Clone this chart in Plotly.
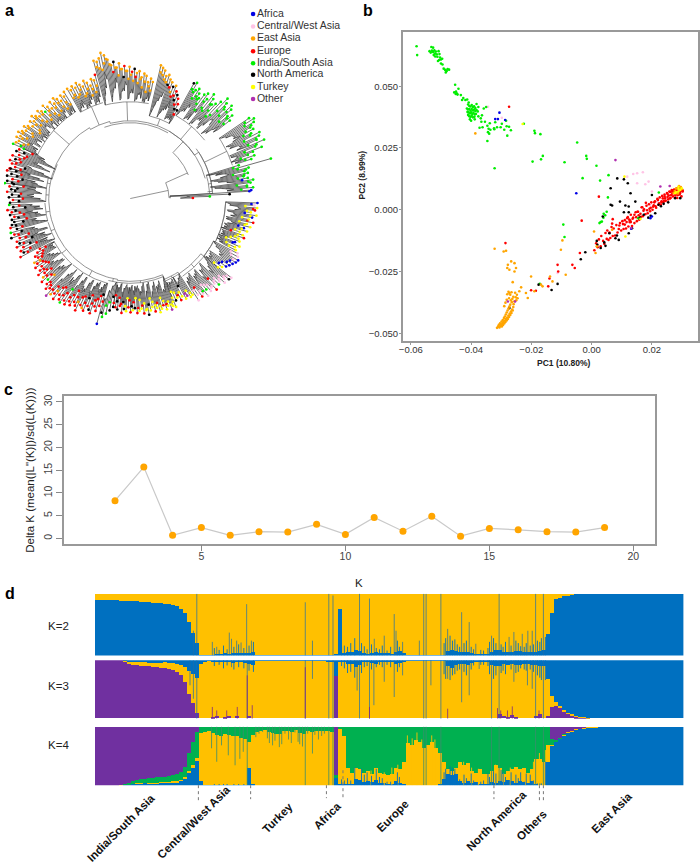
import numpy as np
import plotly.graph_objects as go

W, H = 700, 864
FONT = "Liberation Sans, Arial, sans-serif"

# ---- groups
GROUP_CODES = ["A", "C", "E", "R", "I", "N", "T", "O"]
GROUP_LABELS = ["Africa", "Central/West Asia", "East Asia", "Europe", "India/South Asia", "North America", "Turkey", "Other"]
GROUP_COLORS = ["#0000E6", "#FFC4E6", "#FFA500", "#FF0000", "#00EE00", "#000000", "#FFFF00", "#B030B0"]
COLOR = dict(zip(GROUP_CODES, GROUP_COLORS))
NAME = dict(zip(GROUP_CODES, GROUP_LABELS))

# ---- panel a: circular tree, angles in degrees, radii in tree units
CLADE_START = [0.5, 4, 18, 38, 62, 79, 106, 122, 155, 166, 173, 183, 196, 209, 229, 255, 261, 293, 304, 322, 334]
CLADE_END = [3.5, 17, 34, 61, 77, 105, 120, 155, 166, 173, 182, 195, 208, 228, 255, 261, 293, 303, 322, 333, 358]
CLADE_BACK = [40, 83, 83, 78, 78, 78, 80, 82, 82, 82, 82, 82, 82, 82, 82, 82, 83, 88, 90, 94, 96]
CLADE_BASE = [40, 80, 108, 95, 85, 97, 100, 103, 81, 85, 85, 86, 86, 88, 88, 85, 85, 90, 94, 94, 96]
CLADE_TEETH = [1, 3, 3, 5, 3, 6, 3, 8, 3, 2, 2, 3, 3, 4, 6, 1, 9, 2, 4, 2, 6]
CLADE_TIPS = [
    [63, 80, 100, 120],
    [122, 124, 118, 122, 125, 120, 116, 121, 118, 123, 147, 114],
    [128, 132, 126, 142, 136, 147, 140, 144, 146, 138, 142, 140, 146, 148, 144],
    [127, 132, 128, 135, 138, 130, 136, 140, 133, 128, 125, 130, 134, 126, 131, 128, 122, 126, 130, 127, 134, 132],
    [100, 106, 111, 114, 117, 122, 120, 124, 126, 130, 128, 133, 135, 137],
    [119, 122, 118, 124, 126, 122, 128, 126, 130, 127, 132, 128, 133, 130, 136, 132, 138, 135, 141, 146, 149, 144, 141, 143],
    [129, 124, 126, 120, 124, 127, 122, 125, 128, 124, 127, 124, 127],
    [126, 122, 125, 120, 124, 127, 122, 126, 120, 124, 128, 122, 125, 128, 123, 126, 129, 124, 127, 122, 126, 129, 125, 128, 131, 127, 130, 126, 128, 130],
    [118, 122, 124, 120, 126, 122, 127, 124, 120, 125],
    [124, 127, 122, 126, 120, 125, 127],
    [118, 122, 120, 124, 119, 122, 118, 121],
    [122, 118, 124, 120, 122, 118, 121, 119, 122, 124, 118],
    [125, 122, 126, 118, 122, 120, 124, 118, 122, 120, 125],
    [104, 108, 112, 110, 116, 114, 118, 112, 116, 120, 114, 118, 122, 116, 120, 124, 121],
    [129, 125, 122, 127, 120, 124, 126, 122, 125, 120, 123, 118, 121, 125, 118, 120, 122, 116, 119, 122, 114, 118, 112, 107],
    [130, 122, 118, 114, 110],
    [106, 110, 112, 108, 115, 111, 113, 109, 114, 112, 110, 115, 113, 111, 116, 113, 118, 114, 111, 116, 113, 118, 115, 112, 117, 114, 119, 116, 118],
    [108, 112, 110, 114, 111, 115, 113, 116, 115],
    [123, 118, 122, 120, 125, 119, 123, 121, 126, 120, 124, 122, 127, 124, 128, 129],
    [112, 115, 118, 120, 122, 124, 125, 123, 121],
    [118, 116, 120, 114, 118, 116, 121, 119, 115, 122, 118, 124, 120, 126, 121, 124, 128, 122, 126, 128, 125, 128],
]
CLADE_GROUPS = [
    "RINA", "AIIIIIIIIIII", "IIIIIIIIIIIIIII", "IIIIIIIIIIIIIIIIIIIIIN", "NRRNRENEEEEEEE",
    "EEEEEEEENREEREEENEEEEEEE", "REEEEEEEEEEEE", "EEEEEEEEEEEIEEEEEEEEEEEEEEEEEI",
    "IRNRRNRRRR", "NRNNRNI", "NRNRNNRN", "INRRNRNNNRN", "IRNRRNRRRNR", "RRRRERRRRRRERIRRR",
    "OERRRRIRRRRRRRRERRNRRRRR", "AIINN", "RRNRRNTRRTNRTTRTNTTRTTTRTTOTT", "TNTRTTOTT",
    "CCRCCICCRCICCCNC", "TTAAAAACC", "TTTATTRTTTATTRTATTRTCA",
]
CLADE_TIPS_B = [
    [],
    [112, 118, 108, 120, 114, 110, 117, 106, 120, 112, 108],
    [122, 118, 132, 124, 138, 130, 140, 128, 136, 130, 134, 142, 136, 138],
    [120, 126, 118, 130, 122, 132, 124, 116, 112, 118, 124, 114, 116, 122, 110, 116, 120, 122, 118, 124, 126],
    [95, 100, 104, 108, 112, 110, 114, 118, 120, 122, 124, 128, 130],
    [110, 114, 108, 118, 112, 120, 116, 122, 118, 124, 120, 128, 122, 130, 124, 132, 128, 136, 142, 138, 132, 134, 136],
    [118, 112, 116, 110, 118, 114, 112, 120, 116, 114, 118, 116],
    [112, 116, 110, 114, 120, 112, 118, 110, 114, 120, 116, 112, 122, 114, 118, 124, 116, 120, 114, 112, 124, 118, 116, 126, 120, 124, 116, 120, 122],
    [108, 116, 112, 114, 118, 116, 120, 110, 114],
    [118, 112, 116, 110, 114, 120],
    [108, 114, 116, 110, 112, 108, 112],
    [112, 106, 116, 112, 108, 114, 106, 110, 118, 112],
    [114, 118, 108, 112, 106, 116, 110, 104, 112, 116],
    [98, 102, 104, 106, 110, 108, 106, 104, 112, 110, 106, 114, 110, 108, 116, 118],
    [120, 114, 118, 112, 110, 118, 114, 108, 116, 112, 106, 112, 116, 110, 108, 114, 108, 104, 112, 108, 106, 102, 100],
    [118, 110, 106, 100],
    [98, 104, 100, 106, 104, 108, 100, 102, 108, 104, 100, 110, 102, 108, 106, 112, 108, 102, 106, 110, 108, 112, 104, 108, 112, 110, 114, 112],
    [102, 104, 108, 106, 100, 110, 108, 112],
    [112, 110, 116, 118, 112, 114, 116, 120, 112, 118, 116, 120, 118, 122, 124],
    [106, 110, 112, 116, 118, 120, 116, 114],
    [110, 106, 112, 104, 108, 112, 114, 106, 110, 116, 112, 118, 112, 120, 114, 122, 116, 118, 124, 116, 122],
]
CLADE_GROUPS_B = [
    "", "IIIIAIIIIII", "IIIIIIIIIIIIII", "IIIIIIIIIIIIIIIIIIIII", "RNRNRRERNEEEE",
    "EEEEEEEREEEENEEEREEEEEE", "EEEEEEEEEEEE", "EEEEEEEEEEEEEEEEEEEEEEEEEEEEI", "RNRRRRRNR", "NRNNRN",
    "RNNRNRN", "RNNRRNRNNR", "NRRRNRNRRR", "RRRRERRRRRRRRERR", "RRERRRRIRRRRERRRNRRRRRN", "NIIN",
    "RNRRNTTRNRTRTRTTNTTTRTTTRTTT", "TTRTNOTT", "CRCICCCCRCCCCCC", "TAAAACCC", "TTATTTTRTTATTRTTATRTA",
]
ROOT_ARC_FROM = [1, 22, 15, 5, 60]
ROOT_ARC_TO = [24, 47, 60, 37, 110]
ROOT_ARC_R = [39, 63, 78, 83, 76]
ROOT_STEM_ANGLE = [12, 24, 47, 5]
ROOT_STEM_FROM = [0, 39, 63, 78]
ROOT_STEM_TO = [39, 63, 78, 83]
TREE_CENTER = (127, 197)

# ---- panel b: PCA, values in thousandths
PCA = {
"E": ([-38.6,-32.2,-29.2,-28.4,-26.7,-25.6,-25.1,-27.8,-28.0,-27.3,-25.6,-26.2,-27.3,-23.4,-24.0,-21.8,-21.2,-20.1,-19.0,-16.8,-16.3,-13.8,-13.0,-8.6,-10.2,-9.7,0.8,1.7,1.3,6.8,
       -31.4,-31.0,-30.6,-30.8,-30.2,-30.4,-30.0,-29.8,-29.6,-29.9,-29.4,-29.2,-29.5,-29.0,-28.8,-29.1,-28.6,-28.4,-28.8,-28.2,-28.0,-28.5,-27.8,-27.6,-28.2,-27.4,-27.2,-27.9,-27.0,-26.8,-27.6,-26.6,-26.4,-27.3,-26.2,-26.0,-27.0,-25.9,-26.5,-26.8,-25.6,-26.3,-26.0,-27.4,-28.0,-27.6,-27.0,-26.6,-28.2,-28.6,-29.0,-25.2,-25.0,-24.8,-25.4,-24.6,
       27.6,28.0,28.4,28.8,29.2,29.6,29.9,28.6,27.2,29.0],
      [30.9,-15.8,-16.9,-16.6,-20.9,-21.6,-23.6,-22.3,-23.6,-24.3,-25.0,-29.3,-33.7,-31.4,-33.0,-33.7,-35.7,-27.0,-33.0,-30.3,-31.0,-27.0,-29.0,-26.3,-16.2,-12.4,-8.8,-14.8,-17.5,-8.1,
       -47.8,-47.2,-47.6,-46.6,-47.0,-46.0,-46.4,-47.2,-45.8,-45.2,-46.6,-45.4,-44.6,-46.0,-44.8,-43.8,-45.4,-44.2,-43.2,-44.8,-43.6,-42.4,-44.2,-42.8,-41.6,-43.4,-42.0,-40.8,-42.6,-41.2,-40.0,-41.8,-40.4,-39.2,-40.8,-39.4,-38.4,-38.2,-37.4,-36.6,-37.0,-36.0,-35.2,-35.8,-34.2,-33.2,-34.4,-33.4,-36.4,-37.6,-39.0,-35.4,-36.6,-34.4,-33.6,-35.8,
       7.6,8.6,7.2,8.9,8.2,9.2,8.4,6.6,6.8,9.6]),
"R": ([-27.4,-28.6,-3.3,2.4,-11.3,-11.1,-6.4,-5.6,-3.9,-20.1,-18.5,-14.0,-14.4,
       0.9,1.5,2.0,2.4,3.0,3.2,3.8,4.2,4.6,5.0,5.2,5.6,5.9,6.2,6.6,7.0,7.3,7.8,8.2,8.6,9.0,9.4,9.8,10.2,10.6,11.0,11.4,11.8,12.2,12.6,13.0,13.4,13.8,14.2,14.6,15.0,15.4,15.8,16.2,16.6,17.0,17.4,17.8,18.2,18.6,19.0,19.4,19.8,20.2,20.6,21.0,21.4,21.8,22.2,22.6,23.0,23.4,23.8,24.2,24.6,25.0,25.4,25.8,26.2,26.6,27.0,27.4,27.8,28.2,28.6,29.0,29.4,29.8,30.2,
       6.8,7.0,11.0,12.0,12.5,13.0,14.2,15.2,16.8,18.0,19.6,20.8,22.0,23.2,24.2,25.2,26.0,26.8,27.6,28.4,29.2,29.8,30.0,
       26.0,26.6,27.2,27.8,28.4,29.0,29.6,30.2,30.0,29.2,28.6,28.0,27.4,26.8,
       9.2,10.4,11.6,12.8,13.6,14.8,15.6,16.4,17.2,18.4,19.2,20.4,21.2,22.4,23.2,24.4,25.2,26.4,27.2,28.0,28.8,29.6,24.0,25.6,27.6,29.4,30.1,28.4,26.9,23.6],
      [41.7,-13.5,-4.4,5.3,-22.3,-25.0,-22.3,-23.6,-17.5,-32.6,-32.8,-27.8,-31.0,
       -16.4,-13.6,-15.2,-12.0,-14.8,-10.6,-12.6,-13.8,-9.4,-11.8,-8.4,-12.2,-9.2,-11.4,-7.0,-10.6,-7.6,-10.4,-6.2,-9.2,-7.8,-5.4,-8.4,-4.6,-7.8,-4.2,-7.6,-3.4,-6.8,-5.0,-2.0,-6.6,-3.2,-5.4,-1.0,-4.6,-0.8,-4.0,-1.6,1.0,-2.6,0.2,-1.8,1.6,-1.4,2.2,-0.6,3.0,0.0,1.8,3.4,0.8,4.4,2.0,5.0,2.0,5.6,3.0,6.2,3.6,6.8,4.2,7.4,4.8,8.0,5.4,8.2,5.8,8.6,6.4,8.8,6.8,8.4,7.4,
       -5.6,-3.8,-6.0,-3.0,-4.0,-5.0,-2.0,-0.8,1.0,2.8,0.8,3.0,4.0,3.4,5.4,6.4,4.6,7.4,8.0,4.8,8.6,5.4,8.0,
       7.2,7.8,8.0,6.4,8.4,8.8,8.6,7.6,8.2,6.2,6.0,7.0,7.4,6.8,
       -6.4,-5.8,-5.0,-4.4,-3.6,-3.0,-2.2,-2.8,-0.4,-0.2,0.4,1.2,1.4,2.6,3.0,4.6,5.2,6.0,7.0,7.4,7.0,8.0,3.6,5.8,6.8,7.6,7.8,7.9,6.6,4.6]),
"I": ([-58.1,-57.9,-53.2,-52.6,-53.8,-53.4,-53.0,-52.6,-52.2,-52.0,-51.7,-51.4,-51.9,-52.4,-51.2,-50.8,-50.5,-50.3,-50.6,-50.0,-49.6,-51.0,-50.0,-49.5,-49.1,-48.6,-48.1,-47.8,-48.4,-47.3,
       -45.3,-45.6,-45.0,-44.7,-44.5,-45.1,-44.2,-43.4,-42.6,-41.9,-41.3,-40.8,-43.0,
       -41.0,-40.6,-40.2,-39.8,-39.4,-39.0,-38.6,-38.2,-37.6,-41.4,-41.0,-40.6,-40.2,-39.8,-39.4,-39.0,-38.6,-38.2,-37.8,-41.2,-40.8,-40.4,-40.0,-39.6,-39.2,-38.8,-38.4,-41.0,-40.6,-40.2,-39.8,-39.4,-38.9,-40.4,-40.0,-38.8,-37.6,-36.8,-36.4,-35.8,-35.0,-36.6,
       -35.4,-33.8,-34.6,-32.0,-32.4,-31.4,-32.3,-34.2,-33.6,-34.4,-36.2,-37.2,-34.0,-34.6,-30.2,-29.8,-28.4,-28.2,-29.0,-27.4,-26.8,-28.0,-32.2,
       -22.5,-19.0,-18.8,-17.0,-19.6,-16.8,-16.2,-9.0,-4.8,-1.8,-1.6,1.6,-3.0,2.8,5.6,
       -9.4,-9.0,3.0,2.6,3.4,3.9,4.5,4.0,5.0,5.4,-17.2,15.5,22.3],
      [66.2,62.6,65.9,65.6,64.2,63.6,64.4,63.8,64.5,63.2,64.0,62.9,62.0,62.6,61.9,64.2,63.0,61.6,60.6,60.8,61.1,60.2,59.2,58.8,57.1,56.6,56.2,56.9,55.6,56.7,
       50.6,47.5,47.8,47.0,46.6,46.9,49.0,46.4,45.2,44.4,44.6,43.4,44.4,
       42.6,42.0,41.8,42.4,41.6,41.9,41.2,42.8,41.6,41.0,40.6,40.8,40.2,40.8,40.2,40.6,40.0,40.4,39.8,39.6,39.4,39.0,39.4,38.8,39.2,38.6,38.8,38.4,37.8,37.6,38.0,37.4,37.6,36.6,36.0,36.6,37.8,37.0,38.2,41.0,41.6,35.6,
       35.6,35.0,34.0,35.4,33.0,33.4,32.6,32.8,32.4,31.4,33.4,33.2,30.8,27.8,33.4,34.8,36.0,33.8,32.4,33.6,32.2,30.0,16.8,
       34.8,32.0,31.0,30.6,19.5,20.4,21.8,19.2,27.2,21.8,20.6,17.8,12.8,11.8,14.0,
       -6.0,-11.0,-5.0,-5.4,-4.8,-3.2,-2.2,-1.6,-0.8,5.0,-30.0,-3.4,7.0]),
"N": ([6.3,8.5,10.7,12.0,6.3,6.8,9.4,12.9,14.5,11.2,12.3,10.7,12.3,3.7,5.9,7.9,4.6,1.7,1.9,-2.1,-3.6,-11.3,-13.3,-17.6,20.0,22.2,23.9,27.7,29.4,17.3,18.8,21.1,13.4,12.3,9.0,3.0,-27.3,4.2,8.4,23.0,25.4,19.6,16.0],
      [8.7,12.7,12.3,10.7,2.0,1.7,3.3,6.7,3.3,1.7,1.3,-1.0,-1.0,-2.7,-9.5,-11.5,-14.6,-12.6,-14.2,-17.2,-20.0,-30.0,-32.5,-30.3,6.0,2.0,2.4,4.7,4.7,-2.0,-3.2,-1.4,-7.5,-9.5,-12.2,-15.5,-39.8,-13.2,-10.4,1.4,3.0,-2.4,-3.2]),
"C": ([-34.4,-29.8,15.1,17.0,13.8,11.8,15.1,17.8,18.9,20.0,23.3,24.4,21.8,26.0,19.5,-11.3],
      [41.7,37.2,14.8,15.2,14.5,13.4,10.7,10.3,11.4,7.4,3.3,4.7,3.3,6.0,2.0,-25.6]),
"A": ([-30.6,-32.0,-31.1,-28.7,-5.1,13.1,20.0,19.5],
      [39.3,36.7,36.7,36.3,6.7,-7.7,-2.7,-3.4]),
"T": ([-22.9,10.9,16.2,11.2,28.8,28.0,29.4,28.8,27.7,29.9,28.8],
      [34.7,13.4,-3.7,-10.8,7.4,7.1,8.0,8.4,6.7,8.7,9.3]),
"O": ([7.9,22.8,25.9,-27.8,-25.4,13.2],
      [20.1,9.4,9.6,-37.1,-37.1,-7.4]),
}
PCA_ORDER = ["C", "R", "I", "N", "E", "A", "T", "O"]

# ---- panel c
K_VALUES = list(range(2, 20))
DELTA_K = [8.3, 15.7, 0.7, 2.4, 0.7, 1.5, 1.4, 3.1, 0.9, 4.6, 1.6, 4.9, 0.5, 2.2, 1.9, 1.5, 1.4, 2.4]

# ---- panel d: ancestry percentages per sample block
K2_BLUE = [91,91,90,90,90,90,89,89,88,88, 88,87,87,87,86,86,85,84,84,83, 81,76,70,54,37,20,2,1,1,1,
           3,3,4,3,4,4,5,4,5,6, 1,1,1,1,1,1,1,1,1,1, 1,1,1,1,1,1,1,1,1,2,
           3,75,5,6,6,10,8,4,3,4, 6,4,5,4,3,6,8,4,1,1, 1,1,1,1,1,1,1,1,8,10,
           8,6,6,7,5,3,3,3,3,7, 10,9,6,7,6,8,8,6,6,6, 7,8,9,35,70,92,94,96,98,99] + [100]*28
K3_PURPLE = [100]*7 + [98,94,92, 91,90,90,89,88,88,87,86,85,83, 80,74,62,42,26,10,0,0,0,3,
           4,0,2,4,0,5,0,0,4,0] + [0]*20 + [72] + [0]*39 + [0,8,4,3,6,3,0,0,0,0,
           4,8,0,5,20,22,18,12,8,5, 3,2,1,0.5] + [0]*24
K3_BLUE = [0]*7 + [1,2,3, 4,4,4,5,5,5,5,4,5,5, 6,8,12,18,24,30,6,2,1,2,
           3,3,4,3,5,3,4,5,6,8] + [1]*18 + [2,3,
           28,2,4,7,6,12,9,3,4,5, 6,3,4,3,3,7,5,4,1,1, 1,1,1,1,1,1,1,1,11,14,
           9,6,7,8,5,3,2,2,3,9, 10,10,6,8,6,8,8,6,6,8, 8,10,11,32,62,72,78,85,90,93,
           96,97,98,99] + [100]*24
K4_PURPLE = [100]*6 + [99,98,95,92, 90,89,88,87,87,86,85,85,84,82, 80,76,68,45,25,8,0,0,0,0] + [0]*30 + [82] + [0]*49 + [
           0,0,0,0,20,22,18,12,8,6, 4,2,1] + [0]*25
K4_GREEN = [0]*7 + [1,3,5, 6,7,8,8,8,9,9,9,10,11, 12,14,18,30,40,45,10,8,6,10,
           14,16,12,14,15,16,18,20,25,14, 8,6,5,8,10,12,12,6,7,9, 5,10,12,6,8,6,6,7,6,8,
           5,3,15,70,78,70,72,78,75,80, 70,78,80,82,80,70,72,60,28,30, 22,25,35,30,25,35,45,60,72,75,
           70,60,65,62,75,78,72,80,80,75, 65,70,80,75,72,68,72,70,78,72, 55,55,60,30,10,2,1,1,0,0] + [0]*28
K4_BLUE = [0]*7 + [1,2,3, 3,3,4,4,4,4,5,5,5,5, 6,8,12,22,30,42,8,1,1,1,
           1,1,1,1,1,1,1,1,30,2] + [0]*20 + [13,3,2,3,3,12,10,6,8,6,
           10,5,4,2,2,8,5,2,0,0, 0,0,0,0,0,0,3,12,20,18, 20,8,4,8,4,6,2,2,3,6,
           4,8,6,9,8,5,8,6,4,8, 2,0,0,40,68,75,80,86,91,93, 95,97,98,99,99,99] + [100]*22

K2_SPIKE_POS = [24.75,25.6,29.5,30.6,33.75,34.3,35.6,36.7,38.1,39.3,52.8,54.6,58.7,59.75,66.4,68.9,70.1,72.6,75.1,75.55,77.2,81.4,82.5,83.1,86.8,88.5,92,93.9,95.55,99.5,101.4,103.9,105.1,107.2,108.6,109.7,110.55,112.5]
K2_SPIKE_TOP = [40,100,22,14,37,27,24,21,83,24,86,24,100,97,100,92,27,32,67,40,22,24,100,100,100,43,70,54,19,32,100,30,38,35,40,40,100,100]
K3_SPIKE_POS = [23.9,24.75,25.6,34.3,38.25,52.8,54.6,58.7,59.75,65.8,66.4,68.9,70,72.6,75.1,77.2,82.5,83.1,84.3,86.8,88.5,92,93.9,96.4,99.5,101.4,105.1,108.5,109.7,110.55,112.5]
K3_SPIKE_DEPTH = [43,66,100,12,100,100,32,100,100,52,100,100,77,37,63,26,100,100,43,100,32,72,60,15,100,100,37,43,49,100,100]
K3_PURPLE_SPIKE_POS = [29.5,30.6,33.1,35.75,38.25,39.5,52.8,68.9,88.5,101,101.8,103.5,104.7,111.4]
K3_PURPLE_SPIKE_TOP = [20,14,14,20,74,23,88,20,17,18,14,14,21,14]
K4_SPIKE_POS = [29.3,30.6,31.8,33.5,35.2,36.4,37.25,38.25,51,52.8,54.6,58.7,59.75,82.5,83.1,86.8,99.5,101.4,110.55,112.5,
                40.4,41.2,42.1,43.3,43.8,44.6,45.2,46.3,46.9,47.7,48.6,49.3,50.2,51.4,52.1,53.4,55.2,56.1,56.9,57.6]
K4_SPIKE_DEPTH = [37,60,32,49,66,55,43,100,26,100,46,100,100,100,100,100,100,100,100,100,
                  18,12,9,20,28,32,24,35,30,12,22,28,10,30,34,12,14,22,16,12]
K4_YELLOW_SPIKE_POS = [69.3,72.6,74.5,76,78.4,79.6,80.8,82,84.5,85.3,92.5,94.5,96.2,100.5,102.5,104.2,108,110,111.5,113]
K4_YELLOW_SPIKE_TOP = [25,22,30,35,85,80,90,78,85,78,40,30,28,35,20,30,22,40,55,60]
FRINGE_POS = [30,31.2,32.3,33.2,34.9,36.1,37.4,38.7,39.8,
              61.9,62.6,63.4,64.2,65.2,66.9,67.6,68.3,69.4,70.6,71.4,72.1,73.3,74.2,75.9,76.4,
              87.6,88,89.1,89.7,90.3,90.9,91.5,92.6,93.2,94.4,95,96.8,97.5,98.6,99,100,100.6,101.9,102.4,103,104.4,105.6,106.2,106.8,107.7,108.2,109.2,110,111,111.6,112,113]
K2_FRINGE_TOP = [12,9,16,10,14,18,12,16,22,
                 14,16,14,20,28,20,15,10,18,12,10,16,8,14,24,14,
                 20,28,32,24,26,18,14,20,24,14,10,9,8,12,22,28,20,18,14,22,16,24,20,15,14,20,16,18,24,22,28,30]
K3_FRINGE_DEPTH = [10,8,14,9,16,12,14,18,20,
                   10,14,22,20,30,22,12,10,16,12,8,12,8,12,20,12,
                   24,32,34,26,24,18,16,20,26,16,9,8,8,10,24,32,26,22,18,24,16,22,20,14,16,18,16,20,26,30,34,34]
K4_FRINGE_TOP = [2,2,2,2,2,2,2,2,2,
                 10,8,12,8,30,28,18,22,16,28,14,12,6,6,22,14,
                 22,28,32,30,28,14,10,18,12,20,8,6,8,20,14,24,20,26,22,14,22,18,12,22,6,20,18,8,3,3,3,40]
SEPARATOR_POS = [26, 39.1, 58.1, 62.25, 100.1, 111.5, 112.5]
SEPARATOR_TOP = [785, 785, 785, 770, 785, 785, 785]
SEPARATOR_BOTTOM = [802, 799, 798, 798, 799, 803, 803]
REGION_LABELS = ["India/South Asia", "Central/West Asia", "Turkey", "Africa", "Europe", "North America", "Others", "East Asia"]
REGION_X = [117.5, 191, 275, 325, 391, 495, 531, 611]
REGION_Y = [828, 822, 818, 816, 816, 821, 825, 813]
K_LABELS = ["K=2", "K=3", "K=4"]

YELLOW, BLUE, PURPLE, GREEN = "#FFC000", "#0070C0", "#7030A0", "#00B050"


def dom_x(l, r):
    return [l / W, r / W]


def dom_y(t, b):
    return [1 - b / H, 1 - t / H]


fig = go.Figure()

# ---------- panel a
cx, cy = TREE_CENTER


def polar(theta, r):
    t = np.radians(theta)
    return cx + np.asarray(r) * np.cos(t), cy - np.asarray(r) * np.sin(t)


def add_arc(xs, ys, t0, t1, r):
    a, b = polar(np.linspace(t0, t1, max(3, int(abs(t1 - t0)) + 2)), r)
    xs += list(a) + [None]
    ys += list(b) + [None]


def add_stem(xs, ys, t, r0, r1):
    a, b = polar(t, np.array([r0, r1]))
    xs += list(a) + [None]
    ys += list(b) + [None]


bx, by, sx, sy = [], [], [], []
tips = {c: ([], []) for c in GROUP_CODES}
for t0, t1, r in zip(ROOT_ARC_FROM, ROOT_ARC_TO, ROOT_ARC_R):
    add_arc(bx, by, t0, t1, r)
for t, r0, r1 in zip(ROOT_STEM_ANGLE, ROOT_STEM_FROM, ROOT_STEM_TO):
    add_stem(bx, by, t, r0, r1)
prev_end, prev_back = None, None
for t0, t1, back, base, teeth, ra, ga, rb, gb in zip(CLADE_START, CLADE_END, CLADE_BACK, CLADE_BASE, CLADE_TEETH,
                                                      CLADE_TIPS, CLADE_GROUPS, CLADE_TIPS_B, CLADE_GROUPS_B):
    add_arc(bx, by, (prev_end if prev_end is not None else t0), t1, back)
    if prev_back is not None and prev_back != back:
        add_stem(bx, by, prev_end, prev_back, back)
    prev_end, prev_back = t1, back
    add_stem(bx, by, (t0 + t1) / 2, back, base)
    add_arc(bx, by, t0, t1, base)
    ang_a = np.linspace(t0, t1, len(ra))
    step = (t1 - t0) / max(1, len(ra) - 1)
    ang_b = ang_a[:len(rb)] + step / 2
    angles = list(ang_a) + list(ang_b)
    radii = list(ra) + list(rb)
    groups = (ga + ga[-1] * len(ra))[:len(ra)] + (gb + "I" * len(rb))[:len(rb)]
    order = np.argsort(angles)
    width = (t1 - t0) / teeth
    spine_x, spine_y, last_tooth = [], [], -1
    for k in order:
        a, r, c = angles[k], radii[k], groups[k]
        tooth = min(teeth - 1, int((a - t0) / width))
        frac = min(0.8, 1 - (a - (t0 + tooth * width)) / width)
        inner = base + frac * max(0, r - base - 10)
        add_stem(sx, sy, a, inner, r)
        ix, iy = polar(a, inner)
        if tooth != last_tooth:
            if spine_x:
                sx += spine_x + [None]
                sy += spine_y + [None]
            spine_x, spine_y = [], []
            last_tooth = tooth
        spine_x.append(float(ix))
        spine_y.append(float(iy))
        px_, py_ = polar(a, r)
        tips[c][0].append(float(px_))
        tips[c][1].append(float(py_))
    sx += spine_x + [None]
    sy += spine_y + [None]

fig.add_trace(go.Scatter(x=bx, y=by, mode="lines", line=dict(color="#666666", width=0.7), hoverinfo="skip", showlegend=False, xaxis="x", yaxis="y"))
fig.add_trace(go.Scatter(x=sx, y=sy, mode="lines", line=dict(color="#333333", width=0.7), hoverinfo="skip", showlegend=False, xaxis="x", yaxis="y"))
for c in GROUP_CODES:
    fig.add_trace(go.Scatter(x=tips[c][0], y=tips[c][1], mode="markers", name=NAME[c],
                             marker=dict(color=COLOR[c], size=2.7), showlegend=False, xaxis="x", yaxis="y"))
LEGEND_ROW = [12, 24.5, 36.7, 49.3, 61.3, 72.8, 85.3, 97.3]
fig.add_trace(go.Scatter(x=[250.5] * 8, y=LEGEND_ROW, mode="markers+text", text=GROUP_LABELS, textposition="middle right",
                         textfont=dict(family=FONT, size=10.5, color="#333333"),
                         marker=dict(color=GROUP_COLORS, size=4.5), showlegend=False, cliponaxis=False, xaxis="x", yaxis="y"))

# ---------- panel b
for c in PCA_ORDER:
    xs, ys = PCA[c]
    n = min(len(xs), len(ys))
    fig.add_trace(go.Scatter(x=np.array(xs[:n]) * 0.001, y=np.array(ys[:n]) * 0.001, mode="markers", name=NAME[c],
                             marker=dict(color=COLOR[c], size=2.6), showlegend=False, xaxis="x2", yaxis="y2"))

# ---------- panel c
fig.add_trace(go.Scatter(x=K_VALUES, y=DELTA_K, mode="lines+markers", line=dict(color="#C9C9C9", width=1.2),
                         marker=dict(color="#FFA500", size=7), showlegend=False, xaxis="x3", yaxis="y3"))

# ---------- panel d
COL = [i + 0.5 for i in range(148)]


def bar(values, color, ax):
    vals = [float(v) for v in values]
    fig.add_trace(go.Bar(x=COL, y=vals, width=1.0, marker=dict(color=color, line=dict(width=0)), showlegend=False,
                         hoverinfo="skip", xaxis=f"x{ax}", yaxis=f"y{ax}"))


def spikes(pos, low, high, color, ax, width=1.0):
    xs, ys = [], []
    for p, l, h in zip(pos, low, high):
        xs += [p, p, None]
        ys += [l, h, None]
    fig.add_trace(go.Scatter(x=xs, y=ys, mode="lines", line=dict(color=color, width=width), showlegend=False,
                             hoverinfo="skip", xaxis=f"x{ax}", yaxis=f"y{ax}"))


k2b = np.array(K2_BLUE, float)
bar(k2b, BLUE, 4)
bar(100 - k2b, YELLOW, 4)
spikes(FRINGE_POS, [0] * len(FRINGE_POS), K2_FRINGE_TOP, "rgba(0,112,192,0.9)", 4)
spikes(K2_SPIKE_POS, [0] * len(K2_SPIKE_POS), K2_SPIKE_TOP, "rgba(30,110,170,0.7)", 4)

k3p, k3b = np.array(K3_PURPLE, float), np.array(K3_BLUE, float)
bar(k3p, PURPLE, 5)
bar(np.clip(100 - k3p - k3b, 0, 100), YELLOW, 5)
bar(k3b, BLUE, 5)
spikes(FRINGE_POS, [100] * len(FRINGE_POS), [100 - d for d in K3_FRINGE_DEPTH], "rgba(0,112,192,0.9)", 5)
spikes(K3_SPIKE_POS, [100] * len(K3_SPIKE_POS), [100 - d for d in K3_SPIKE_DEPTH], "rgba(30,110,170,0.7)", 5)
spikes(K3_PURPLE_SPIKE_POS, [0] * len(K3_PURPLE_SPIKE_POS), K3_PURPLE_SPIKE_TOP, "rgba(130,40,130,0.8)", 5)

k4p, k4g, k4b = np.array(K4_PURPLE, float), np.array(K4_GREEN, float), np.array(K4_BLUE, float)
bar(k4b, BLUE, 6)
bar(np.clip(100 - k4p - k4g - k4b, 0, 100), YELLOW, 6)
bar(k4g, GREEN, 6)
bar(k4p, PURPLE, 6)
spikes(K4_SPIKE_POS, [100] * len(K4_SPIKE_POS), [100 - d for d in K4_SPIKE_DEPTH], "rgba(60,140,110,0.8)", 6)
spikes(K4_YELLOW_SPIKE_POS, [0] * len(K4_YELLOW_SPIKE_POS), K4_YELLOW_SPIKE_TOP, "rgba(255,192,0,0.9)", 6)
spikes(FRINGE_POS, [0] * len(FRINGE_POS), K4_FRINGE_TOP, "rgba(0,112,192,0.9)", 6)

# ---------- layout
hidden = dict(visible=False, fixedrange=True)
frame = dict(showline=True, mirror=True, linecolor="#999999", linewidth=1.5, showgrid=False, zeroline=False,
             fixedrange=True)
annotations = []


def text(x, y, s, size=10.5, bold=False, angle=0, color="#222222"):
    annotations.append(dict(x=x / W, y=1 - y / H, xref="paper", yref="paper", text=f"<b>{s}</b>" if bold else s,
                            showarrow=False, xanchor="center", yanchor="middle", textangle=angle,
                            font=dict(family=FONT, size=size, color=color)))


for s, x, y in zip("abcd", [6, 366, 5, 6], [9, 9, 388, 593]):
    text(x, y, s, size=16, bold=True, color="#000000")
text(563, 362, "PC1 (10.80%)", size=8.5, bold=True)
text(360, 173, "PC2 (8.99%)", size=8.5, bold=True, angle=-90)
text(26, 469, 'Delta K (mean(|L"(K)|)/sd(L(K))))', size=11.5, angle=-90)
text(357, 582, "K", size=11.5)
for s, y in zip(K_LABELS, [625, 686, 745]):
    text(55, y, s, size=11.5)
for s, x, y in zip(REGION_LABELS, REGION_X, REGION_Y):
    text(x, y, s, size=11.5, bold=True, angle=-45, color="#111111")

shapes = [dict(type="line", xref="x6", yref="paper", x0=p, x1=p, y0=1 - t / H, y1=1 - b / H,
               line=dict(color="#777777", width=1, dash="dot"))
          for p, t, b in zip(SEPARATOR_POS, SEPARATOR_TOP, SEPARATOR_BOTTOM)]

fig.update_layout(
    width=W, height=H, margin=dict(l=0, r=0, t=0, b=0), paper_bgcolor="white", plot_bgcolor="white",
    barmode="stack", bargap=0, showlegend=False, annotations=annotations, shapes=shapes,
    font=dict(family=FONT),
    xaxis=dict(domain=dom_x(0, 350), range=[0, 350], **hidden),
    yaxis=dict(domain=dom_y(0, 340), range=[340, 0], **hidden),
    xaxis2=dict(domain=dom_x(401, 698), range=[-0.0627, 0.0353], tickvals=[-0.06, -0.04, -0.02, 0, 0.02],
                ticktext=["\u22120.06", "\u22120.04", "\u22120.02", "0.00", "0.02"], ticks="outside", ticklen=2,
                tickcolor="#999999", ticklabelstandoff=-3,
                tickfont=dict(size=9.5, color="#333333"), **frame),
    yaxis2=dict(domain=dom_y(30, 340), range=[-0.0532, 0.07197], tickvals=[-0.05, -0.025, 0, 0.025, 0.05],
                ticktext=["\u22120.050", "\u22120.025", "0.000", "0.025", "0.050"], ticks="outside", ticklen=2,
                tickcolor="#999999", ticklabelstandoff=-1,
                tickfont=dict(size=9.5, color="#333333"), anchor="x2", **frame),
    xaxis3=dict(domain=dom_x(60, 655), range=[0.217, 20.76], tickvals=[5, 10, 15, 20], ticks="outside", ticklen=6,
                tickcolor="#888888", ticklabelstandoff=-4,
                tickfont=dict(size=10.5, color="#444444"), anchor="y3", **frame),
    yaxis3=dict(domain=dom_y(395, 543), range=[-1.16, 31.3], tickvals=[0, 5, 10, 15, 20, 25, 30], tickangle=-90,
                ticks="outside", ticklen=6, tickcolor="#888888",
                tickfont=dict(size=10.5, color="#444444"), anchor="x3", **frame),
)
fig.layout.xaxis2.anchor = "y2"
for ax, (t, b) in zip([4, 5, 6], [(593, 655), (659.7, 718.3), (726.3, 785)]):
    fig.layout[f"xaxis{ax}"] = dict(domain=dom_x(91.2, 683.3), range=[0, 147.6], anchor=f"y{ax}", **hidden)
    fig.layout[f"yaxis{ax}"] = dict(domain=dom_y(t, b), range=[0, 100], anchor=f"x{ax}", **hidden)

assert all(len(v) == 148 for v in [K2_BLUE, K3_PURPLE, K3_BLUE, K4_PURPLE, K4_GREEN, K4_BLUE])

fig.write_html("out.html", post_script="document.body.style.margin='0';", config=dict(displayModeBar=False))
